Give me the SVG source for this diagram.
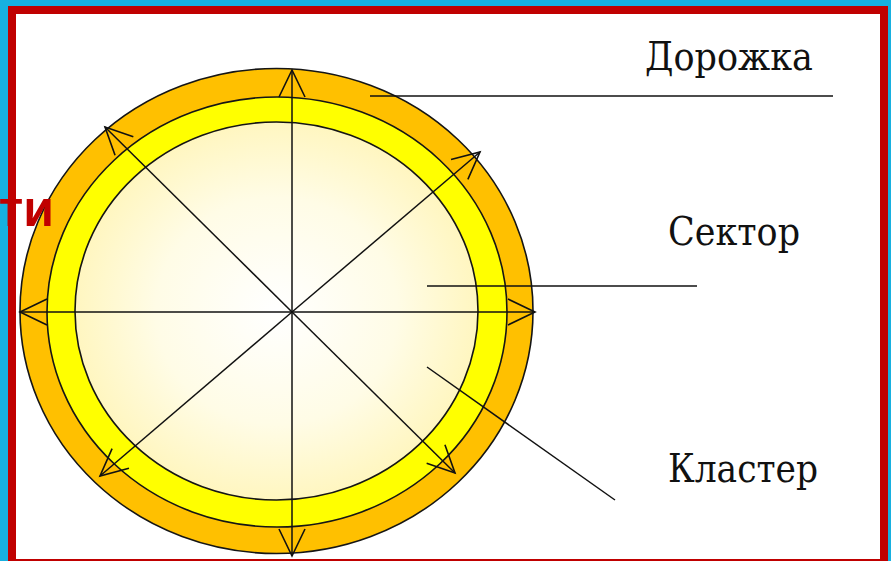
<svg xmlns="http://www.w3.org/2000/svg" width="891" height="561" viewBox="0 0 891 561">
  <defs>
    <radialGradient id="innerGrad" cx="0.5" cy="0.5" r="0.5">
      <stop offset="0" stop-color="#FFFFFF"/>
      <stop offset="0.6" stop-color="#FFFCE6"/>
      <stop offset="1" stop-color="#FFF6C0"/>
    </radialGradient>
    <marker id="arr" markerUnits="userSpaceOnUse" markerWidth="40" markerHeight="40" refX="0" refY="0" viewBox="-32 -20 36 40" orient="auto" overflow="visible">
      <path d="M -27 -13 L 0 0 L -27 13" fill="none" stroke="#111" stroke-width="1.6"/>
    </marker>
    <style>
      .ring { stroke: #151515; stroke-width: 1.6; }
      .ln { stroke: #111; stroke-width: 1.5; fill: none; }
      .lbl { font-family: "DejaVu Serif", "Liberation Serif", serif; font-size: 40px; fill: #111; }
    </style>
  </defs>

  <rect x="0" y="0" width="891" height="561" fill="#17B0E0"/>
  <rect x="8" y="6" width="880" height="560" fill="#C00000"/>
  <rect x="16" y="14" width="864" height="545" fill="#FFFFFF"/>

  <g id="disk">
    <ellipse class="ring" cx="276.5" cy="311" rx="256.5" ry="242.5" fill="#FFC000"/>
    <ellipse class="ring" cx="277" cy="312" rx="230" ry="215" fill="#FFFF00"/>
    <ellipse class="ring" cx="276.5" cy="311" rx="201.5" ry="189" fill="url(#innerGrad)"/>
  </g>

  <g id="diameters">
    <line class="ln" x1="292" y1="312" x2="292" y2="70" marker-end="url(#arr)"/>
    <line class="ln" x1="292" y1="312" x2="292" y2="556" marker-end="url(#arr)"/>
    <line class="ln" x1="292" y1="312" x2="20" y2="312" marker-end="url(#arr)"/>
    <line class="ln" x1="292" y1="312" x2="535" y2="312" marker-end="url(#arr)"/>
    <line class="ln" x1="292" y1="312" x2="105" y2="127" marker-end="url(#arr)"/>
    <line class="ln" x1="292" y1="312" x2="480" y2="152" marker-end="url(#arr)"/>
    <line class="ln" x1="292" y1="312" x2="100" y2="476" marker-end="url(#arr)"/>
    <line class="ln" x1="292" y1="312" x2="455" y2="473" marker-end="url(#arr)"/>
  </g>

  <g id="connectors">
    <line class="ln" x1="370" y1="96" x2="833" y2="96"/>
    <line class="ln" x1="427" y1="286" x2="697" y2="286"/>
    <line class="ln" x1="427" y1="367" x2="615" y2="500"/>
  </g>

  <g id="label-track">
    <text class="lbl" x="645" y="70" textLength="168" lengthAdjust="spacingAndGlyphs">Дорожка</text>
  </g>
  <g id="label-sector">
    <text class="lbl" x="668" y="245" textLength="132" lengthAdjust="spacingAndGlyphs">Сектор</text>
  </g>
  <g id="label-cluster">
    <text class="lbl" x="668" y="482" textLength="150" lengthAdjust="spacingAndGlyphs">Кластер</text>
  </g>

  <g id="title-fragment">
    <text x="54" y="226" text-anchor="end" font-family="Liberation Sans, Arial, sans-serif" font-weight="bold" font-size="50" fill="#C00000">ти</text>
  </g>
</svg>
